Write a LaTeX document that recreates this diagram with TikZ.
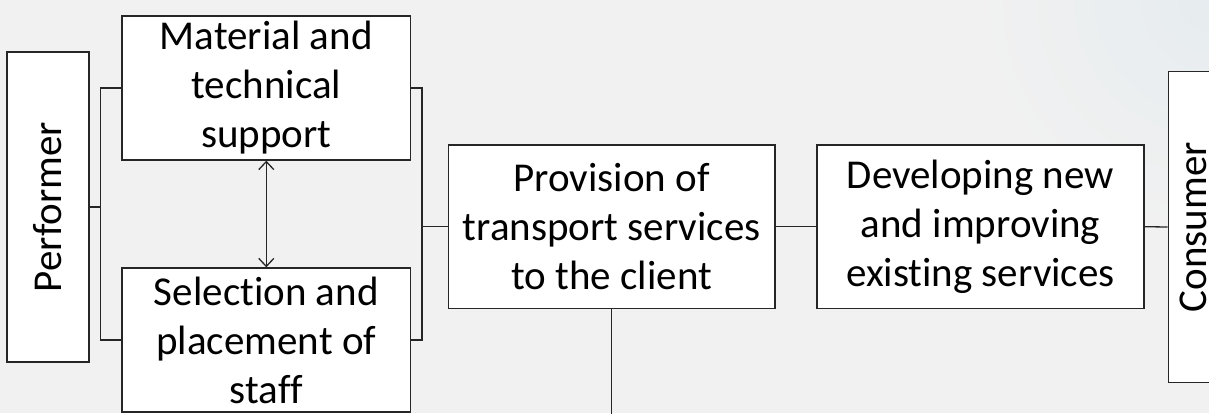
\documentclass[tikz,border=0pt]{standalone}
\usepackage{fontspec}
\setmainfont{Carlito}[Ligatures={NoCommon}]
\usetikzlibrary{arrows.meta}
\definecolor{bgcol}{HTML}{F1F1F1}
\definecolor{tintcol}{HTML}{E6ECEF}
\definecolor{linecol}{HTML}{262626}
\tikzset{
  box/.style={draw=linecol, fill=white, line width=1.3pt, align=center,
    inner sep=0pt, font=\fontsize{41}{49}\selectfont},
  link/.style={draw=linecol, line width=1.3pt},
}
\begin{document}
\begin{tikzpicture}[x=1pt, y=-1pt]
  % canvas
  \useasboundingbox (0,0) rectangle (1209,413);
  \fill[bgcol] (0,0) rectangle (1209,413);
  \begin{scope}
    \clip (0,0) rectangle (1209,413);
    \shade[inner color=tintcol, outer color=bgcol] (1209,0) circle[radius=230];
  \end{scope}

  % side boxes
  \node[box, minimum width=82pt, minimum height=310pt] (perf) at (48,207)
    {\rotatebox{90}{Performer}};
  \begin{scope}
    \clip (0,0) rectangle (1209,413);
    \node[box, minimum width=50pt, minimum height=310.6pt] (cons) at (1193.3,227)
      {\rotatebox{90}{Consumer}};
  \end{scope}

  % resource boxes
  \node[box, minimum width=288.7pt, minimum height=144pt] (mat) at (266.3,88)
    {Material and\\technical\\support};
  \node[box, minimum width=288.7pt, minimum height=144pt] (sel) at (266.3,340)
    {Selection and\\placement of\\staff};

  % main chain
  \node[box, minimum width=326.7pt, minimum height=163.3pt] (prov) at (611.7,226.7)
    {Provision of\\transport services\\to the client};
  \node[box, minimum width=327pt, minimum height=163.4pt] (dev) at (980.5,226.7)
    {Developing new\\and improving\\existing services};

  % left bracket
  \coordinate (lb) at (100.3,207);
  \draw[link] (perf.east) -- (lb);
  \draw[link] (mat.west) -| (lb) |- (sel.west);

  % right bracket
  \coordinate (rb) at (422,226.7);
  \draw[link] (mat.east) -| (rb) |- (sel.east);
  \draw[link] (rb) -- (prov.west);

  % two-way link between resources
  \draw[link, {Straight Barb[length=8pt,width=15pt]}-{Straight Barb[length=8pt,width=15pt]}]
    (mat.south) -- (sel.north);

  % chain links
  \draw[link] (prov.east) -- (dev.west);
  \draw[link] (dev.east) -- (cons.west);
  \coordinate (down) at (611.7,420);
  \draw[link] (prov.south) -- (down);
\end{tikzpicture}
\end{document}
